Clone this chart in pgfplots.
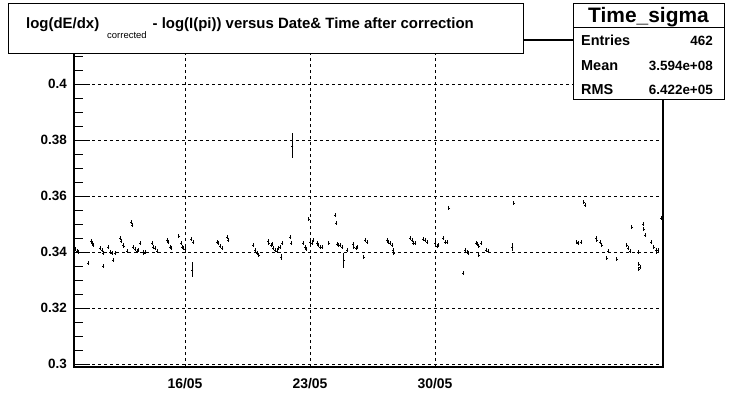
\documentclass[border=0pt]{standalone}
\usepackage{pgfplots}
\usepackage{pgfplotstable}
\pgfplotsset{compat=1.18}
\usepackage{fontspec}
\setmainfont{Liberation Sans}

\pgfplotstableread{
x y e
9.73 0.3418 0.0008
9.84 0.3411 0.0008
9.95 0.3404 0.0008
10.01 0.3400 0.0008
10.57 0.3361 0.0008
10.74 0.3437 0.0008
10.79 0.3432 0.0008
10.85 0.3425 0.0008
11.24 0.3414 0.0008
11.35 0.3407 0.0008
11.41 0.3396 0.0008
11.41 0.3350 0.0006
11.69 0.3418 0.0008
11.80 0.3400 0.0008
11.91 0.3396 0.0008
11.97 0.3371 0.0008
12.08 0.3396 0.0008
12.36 0.3450 0.0008
12.42 0.3439 0.0008
12.53 0.3425 0.0008
12.58 0.3421 0.0008
12.75 0.3404 0.0008
12.98 0.3507 0.0008
13.03 0.3496 0.0006
13.09 0.3418 0.0008
13.20 0.3411 0.0008
13.31 0.3404 0.0008
13.37 0.3407 0.0008
13.48 0.3432 0.0008
13.65 0.3400 0.0008
13.70 0.3396 0.0008
13.76 0.3400 0.0008
14.15 0.3432 0.0008
14.21 0.3418 0.0008
14.32 0.3414 0.0008
14.43 0.3404 0.0008
14.99 0.3443 0.0008
15.05 0.3436 0.0008
15.16 0.3418 0.0008
15.22 0.3414 0.0008
15.66 0.3457 0.0008
15.78 0.3432 0.0008
15.83 0.3418 0.0008
15.89 0.3414 0.0008
16.00 0.3411 0.0008
16.34 0.3446 0.0008
16.45 0.3436 0.0008
16.39 0.3336 0.0027
17.79 0.3436 0.0008
17.85 0.3432 0.0008
17.96 0.3421 0.0008
18.07 0.3414 0.0008
18.35 0.3454 0.0008
18.41 0.3443 0.0008
19.81 0.3425 0.0008
19.92 0.3407 0.0008
20.03 0.3396 0.0008
20.14 0.3389 0.0008
20.65 0.3439 0.0008
20.70 0.3432 0.0008
20.82 0.3425 0.0008
20.87 0.3429 0.0008
20.93 0.3414 0.0008
21.04 0.3407 0.0008
21.15 0.3404 0.0008
21.21 0.3414 0.0008
21.32 0.3418 0.0008
21.43 0.3432 0.0008
21.38 0.3382 0.0012
21.88 0.3454 0.0008
21.94 0.3432 0.0008
21.99 0.3779 0.0045
22.61 0.3432 0.0008
22.72 0.3418 0.0008
22.78 0.3411 0.0008
22.94 0.3518 0.0008
23.00 0.3436 0.0008
23.11 0.3432 0.0008
23.17 0.3443 0.0008
23.39 0.3432 0.0008
23.45 0.3425 0.0008
23.56 0.3418 0.0008
23.67 0.3418 0.0008
24.06 0.3432 0.0008
24.40 0.3532 0.0008
24.46 0.3504 0.0008
24.51 0.3429 0.0008
24.57 0.3425 0.0008
24.68 0.3425 0.0008
24.79 0.3418 0.0008
24.90 0.3371 0.0027
25.07 0.3407 0.0008
25.41 0.3429 0.0008
25.46 0.3418 0.0008
25.58 0.3414 0.0008
25.63 0.3418 0.0008
26.02 0.3382 0.0008
26.08 0.3443 0.0008
26.19 0.3436 0.0008
27.31 0.3443 0.0008
27.37 0.3436 0.0008
27.48 0.3432 0.0008
27.59 0.3425 0.0008
27.65 0.3407 0.0008
27.70 0.3396 0.0008
28.60 0.3450 0.0008
28.71 0.3443 0.0008
28.77 0.3432 0.0008
28.88 0.3432 0.0008
29.33 0.3446 0.0008
29.44 0.3443 0.0008
29.55 0.3436 0.0008
30.00 0.3432 0.0008
30.11 0.3421 0.0008
30.17 0.3425 0.0008
30.45 0.3450 0.0008
30.56 0.3436 0.0008
30.67 0.3436 0.0008
30.78 0.3557 0.0008
31.57 0.3325 0.0006
31.68 0.3407 0.0008
31.79 0.3400 0.0008
31.85 0.3396 0.0008
32.30 0.3432 0.0008
32.35 0.3429 0.0008
32.46 0.3421 0.0008
32.58 0.3432 0.0008
32.46 0.3389 0.0006
32.86 0.3407 0.0008
32.97 0.3404 0.0008
34.31 0.3418 0.0015
34.42 0.3575 0.0006
37.95 0.3436 0.0008
38.01 0.3432 0.0008
38.18 0.3436 0.0008
38.34 0.3579 0.0008
38.40 0.3568 0.0006
39.02 0.3450 0.0008
39.07 0.3443 0.0008
39.24 0.3436 0.0008
39.35 0.3425 0.0008
39.69 0.3404 0.0008
39.63 0.3379 0.0008
40.19 0.3375 0.0006
40.75 0.3425 0.0008
40.81 0.3414 0.0008
40.92 0.3404 0.0008
41.03 0.3489 0.0006
41.37 0.3400 0.0006
41.42 0.3357 0.0008
41.48 0.3346 0.0008
41.42 0.3339 0.0006
41.65 0.3500 0.0008
41.70 0.3482 0.0008
41.76 0.3461 0.0008
42.10 0.3436 0.0006
42.26 0.3418 0.0008
42.38 0.3407 0.0008
42.43 0.3400 0.0008
42.49 0.3407 0.0008
42.66 0.3521 0.0008
}\datatable

\begin{document}
\begin{tikzpicture}[x=1bp,y=1bp]
\useasboundingbox (0,0) rectangle (735,-408);
\begin{axis}[
  at={(74bp,-367bp)}, anchor=south west,
  scale only axis, width=589bp, height=327bp,
  xmin=9.784, xmax=42.77, ymin=0.29893, ymax=0.41571,
  axis line style={line width=1.1bp},
  xtick={16,23,30}, xticklabels={16/05,23/05,30/05},
  ytick={0.3,0.32,0.34,0.36,0.38,0.4},
  yticklabels={0.3,0.32,0.34,0.36,0.38,0.4},
  minor ytick={0.305,0.31,0.315,0.325,0.33,0.335,0.345,0.35,0.355,0.365,0.37,0.375,0.385,0.39,0.395,0.405,0.41,0.415},
  ytick pos=left, xtick pos=bottom,
  tick align=inside,
  major tick length=16bp, minor tick length=9bp,
  tick style={black, line width=0.8bp},
  xtick style={draw=none},
  grid=major,
  major grid style={black, dash pattern=on 3bp off 3bp, line width=0.6bp},
  yticklabel style={font=\bfseries\fontsize{13.5}{15}\selectfont, anchor=east, inner sep=0pt, xshift=-7bp},
  xticklabel style={font=\bfseries\fontsize{14}{16}\selectfont, anchor=north, inner sep=0pt, yshift=-11bp},
]
\addplot[black, only marks, mark=-, mark size=1.3bp,
  error bars/.cd, y dir=both, y explicit, error mark=none,
  error bar style={line width=0.9bp}]
  table[x=x, y=y, y error=e] {\datatable};
\end{axis}
% title box
\draw[fill=white, line width=0.8bp] (8,-3) rectangle (523,-53);
\node[anchor=base west, inner sep=0pt, font=\bfseries\fontsize{15}{18}\selectfont] at (26,-28)
  {log(dE/dx)\hspace{8bp}\raisebox{-10bp}{\mdseries\fontsize{9.5}{10}\selectfont corrected}\hspace{6bp}- log(I(pi)) versus Date\& Time after correction};
% stats box
\draw[fill=white, line width=0.8bp] (573,-3) rectangle (724,-99);
\draw[line width=0.8bp] (573,-27) -- (724,-27);
\node[anchor=base, inner sep=0pt, font=\bfseries\fontsize{21}{24}\selectfont] at (648.5,-22) {Time\_sigma};
\begin{scope}[every node/.style={inner sep=0pt}]
\node[anchor=base west, font=\bfseries\fontsize{14.5}{16}\selectfont] at (581,-45) {Entries};
\node[anchor=base west, font=\bfseries\fontsize{14.5}{16}\selectfont] at (581,-70) {Mean};
\node[anchor=base west, font=\bfseries\fontsize{14.5}{16}\selectfont] at (581,-94) {RMS};
\node[anchor=base east, font=\bfseries\fontsize{13.5}{15}\selectfont] at (713,-45) {462};
\node[anchor=base east, font=\bfseries\fontsize{13.5}{15}\selectfont] at (713,-70) {3.594e+08};
\node[anchor=base east, font=\bfseries\fontsize{13.5}{15}\selectfont] at (713,-94) {6.422e+05};
\end{scope}
\end{tikzpicture}
\end{document}
